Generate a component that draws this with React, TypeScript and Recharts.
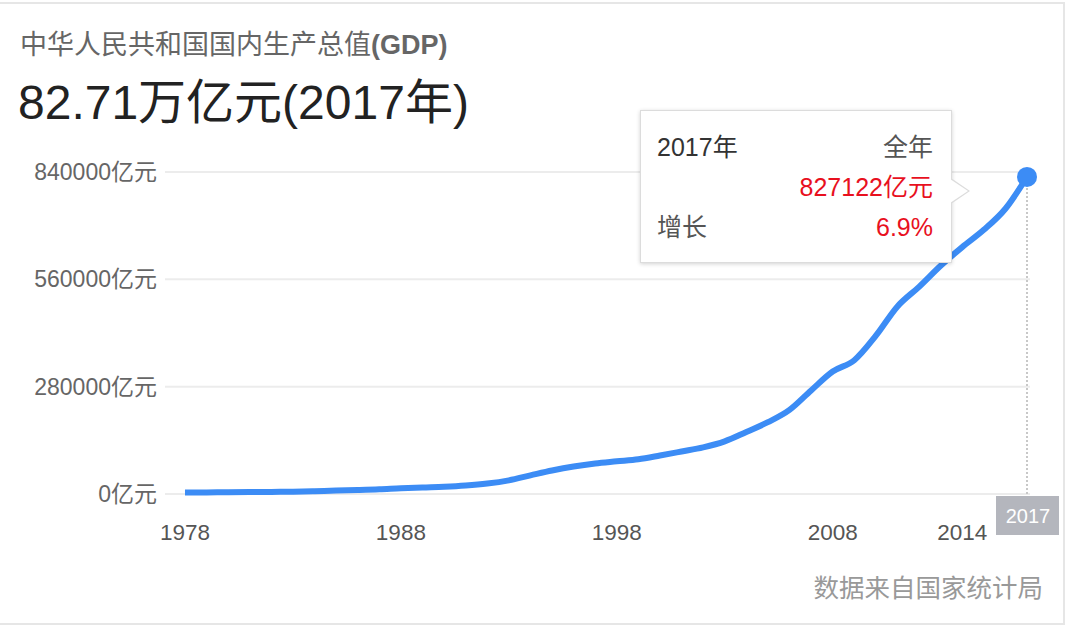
import React from "react";
import {
  CartesianGrid,
  Line,
  LineChart,
  Tooltip,
  XAxis,
  YAxis,
} from "recharts";

// 1978-2017 GDP, 亿元 (National Bureau of Statistics)
const years = [
  1978, 1979, 1980, 1981, 1982, 1983, 1984, 1985, 1986, 1987, 1988, 1989, 1990,
  1991, 1992, 1993, 1994, 1995, 1996, 1997, 1998, 1999, 2000, 2001, 2002, 2003,
  2004, 2005, 2006, 2007, 2008, 2009, 2010, 2011, 2012, 2013, 2014, 2015, 2016,
  2017,
];
const gdp = [
  3679, 4101, 4588, 4936, 5373, 6021, 7279, 9099, 10376, 12175, 15180, 17180,
  18873, 22006, 27195, 35673, 48638, 61340, 71814, 79715, 85196, 90564, 100280,
  110863, 121717, 137422, 161840, 187319, 219439, 270232, 319516, 349081,
  413030, 489301, 540367, 595244, 643974, 689052, 744127, 827122,
];
const growth = "6.9%";
const yTicks = [0, 280000, 560000, 840000];
const xTicks = [1978, 1988, 1998, 2008, 2014, 2017];

const data = years.map((year, i) => ({ year, gdp: gdp[i] }));

const FONT = "'Liberation Sans', Arial, 'Noto Sans CJK SC', sans-serif";
const BLUE = "#3c8cf5";
const RED = "#e8101e";

function YTick({ x, y, payload }: any) {
  return (
    <text x={x} y={y} dy={8} textAnchor="end" fill="#666" fontSize={23} fontFamily={FONT}>
      {payload.value}亿元
    </text>
  );
}

function XTick({ x, y, payload }: any) {
  if (payload.value === 2017) {
    return (
      <g>
        <rect x={x - 31} y={y + 2} width={63} height={39} fill="#b4b6bd" />
        <text x={x + 1} y={y + 29} textAnchor="middle" fill="#fff" fontSize={20} fontFamily={FONT}>
          {payload.value}
        </text>
      </g>
    );
  }
  return (
    <text x={x} y={y + 46} textAnchor="middle" fill="#555" fontSize={22.5} fontFamily={FONT}>
      {payload.value}
    </text>
  );
}

function InfoBox({ payload }: any) {
  if (!payload || !payload.length) return null;
  const row = payload[0].payload;
  const rowStyle: React.CSSProperties = {
    display: "flex",
    justifyContent: "space-between",
    height: 40,
    lineHeight: "40px",
  };
  return (
    <div
      style={{
        position: "relative",
        width: 312,
        height: 153,
        boxSizing: "border-box",
        background: "#fff",
        border: "1px solid #dcdcdc",
        boxShadow: "0 1px 4px rgba(0,0,0,0.18)",
        padding: "16px 18px 0 16px",
        fontFamily: FONT,
        fontSize: 25,
      }}
    >
      <div style={rowStyle}>
        <span style={{ color: "#333" }}>{row.year}年</span>
        <span style={{ color: "#555" }}>全年</span>
      </div>
      <div style={{ ...rowStyle, justifyContent: "flex-end" }}>
        <span style={{ color: RED }}>{row.gdp}亿元</span>
      </div>
      <div style={rowStyle}>
        <span style={{ color: "#555" }}>增长</span>
        <span style={{ color: RED }}>{growth}</span>
      </div>
      <div
        style={{
          position: "absolute",
          right: -19,
          top: 67,
          width: 0,
          height: 0,
          borderTop: "13px solid transparent",
          borderBottom: "13px solid transparent",
          borderLeft: "19px solid #dcdcdc",
        }}
      />
      <div
        style={{
          position: "absolute",
          right: -17,
          top: 68,
          width: 0,
          height: 0,
          borderTop: "12px solid transparent",
          borderBottom: "12px solid transparent",
          borderLeft: "18px solid #fff",
        }}
      />
    </div>
  );
}

export default function App() {
  return (
    <div
      style={{
        position: "fixed",
        left: 0,
        top: 0,
        width: 1080,
        height: 625,
        background: "#fff",
        overflow: "hidden",
        fontFamily: FONT,
      }}
    >
      <div
        style={{
          position: "absolute",
          left: -3,
          top: 2,
          width: 1064,
          height: 619,
          border: "2px solid #e6e6e6",
        }}
      />
      <div
        style={{
          position: "absolute",
          left: 20,
          top: 23,
          fontSize: 27,
          color: "#666",
          whiteSpace: "nowrap",
        }}
      >
        中华人民共和国国内生产总值<b>(GDP)</b>
      </div>
      <div
        style={{
          position: "absolute",
          left: 18,
          top: 63,
          fontSize: 48,
          color: "#222",
          whiteSpace: "nowrap",
        }}
      >
        82.71万亿元(2017年)
      </div>
      <div
        style={{
          position: "absolute",
          right: 37,
          top: 567,
          fontSize: 25.5,
          color: "#999",
          whiteSpace: "nowrap",
        }}
      >
        数据来自国家统计局
      </div>
      <div style={{ position: "absolute", left: 0, top: 0 }}>
        <LineChart
          width={1080}
          height={625}
          data={data}
          margin={{ top: 172, right: 50, bottom: 81, left: 0 }}
        >
          <CartesianGrid vertical={false} stroke="#ececec" strokeWidth={2} />
          <XAxis
            dataKey="year"
            type="number"
            domain={[1978, 2017]}
            ticks={xTicks}
            interval={0}
            padding={{ left: 20, right: 3 }}
            axisLine={false}
            tickLine={false}
            tickSize={0}
            tickMargin={0}
            height={50}
            tick={<XTick />}
          />
          <YAxis
            domain={[0, 840000]}
            ticks={yTicks}
            interval={0}
            axisLine={false}
            tickLine={false}
            tickSize={0}
            tickMargin={8}
            width={165}
            tick={<YTick />}
          />
          <Tooltip
            active
            defaultIndex={data.length - 1}
            position={{ x: 640, y: 110 }}
            content={<InfoBox />}
            cursor={{ stroke: "#c8c8c8", strokeWidth: 2, strokeDasharray: "2 2" }}
            isAnimationActive={false}
            wrapperStyle={{ outline: "none" }}
          />
          <Line
            type="monotone"
            dataKey="gdp"
            stroke={BLUE}
            strokeWidth={6}
            dot={false}
            activeDot={{ r: 10, fill: BLUE, stroke: "none" }}
            isAnimationActive={false}
          />
        </LineChart>
      </div>
    </div>
  );
}
